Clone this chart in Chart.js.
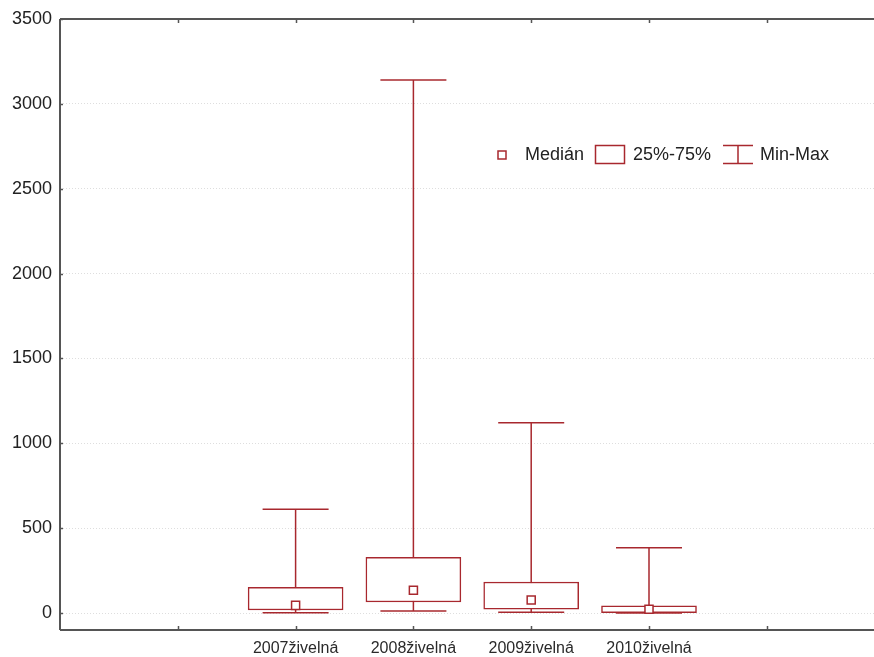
<!DOCTYPE html>
<html>
<head>
<meta charset="utf-8">
<script src="https://cdn.jsdelivr.net/npm/chart.js@4.4.1/dist/chart.umd.min.js"></script>
<style>
  html, body { margin: 0; padding: 0; background: #ffffff; }
  #wrap { width: 874px; height: 657px; }
</style>
</head>
<body>
<div id="wrap"><canvas id="c" width="874" height="657"></canvas></div>
<script>
// ---- data ----
const categories = ['2007živelná', '2008živelná', '2009živelná', '2010živelná'];
const positions = [2, 3, 4, 5];           // x slot of each category
const minValues = [2, 12, 4, 0];
const q1Values = [18, 65, 22, 2];
const medianValues = [45, 134, 77, 22];
const q3Values = [151, 328, 183, 43];
const maxValues = [611, 3141, 1121, 385];
const yTicks = [0, 500, 1000, 1500, 2000, 2500, 3000, 3500];
const xTickSlots = [1, 2, 3, 4, 5, 6];
const legendLabels = ['Medián', '25%-75%', 'Min-Max'];

const RED = '#a8282e';
const AXIS = '#555555';
const FONT = "'Liberation Sans', Arial, sans-serif";

// whisker segments (null breaks the line)
const whiskerData = [];
positions.forEach((x, i) => {
  whiskerData.push({ x: x, y: minValues[i] });
  whiskerData.push({ x: x, y: maxValues[i] });
  whiskerData.push({ x: x, y: null });
});
const capData = [];
positions.forEach((x, i) => {
  capData.push({ x: x, y: minValues[i] });
  capData.push({ x: x, y: maxValues[i] });
});
const boxData = positions.map((x, i) => ({ x: x, y: [q1Values[i], q3Values[i]] }));
const medianData = positions.map((x, i) => ({ x: x, y: medianValues[i] }));

function noPad(s) { s.paddingLeft = 0; s.paddingRight = 0; s.paddingTop = 0; s.paddingBottom = 0; }

const frame = {
  id: 'frame',
  afterDraw(chart) {
    const { ctx, chartArea: a, scales: { x, y } } = chart;
    ctx.save();
    ctx.strokeStyle = AXIS;
    ctx.lineWidth = 2;
    ctx.beginPath();
    ctx.moveTo(a.left, a.top); ctx.lineTo(a.right, a.top);
    ctx.moveTo(a.left, a.bottom); ctx.lineTo(a.right, a.bottom);
    ctx.moveTo(a.left, a.top); ctx.lineTo(a.left, a.bottom);
    ctx.stroke();
    ctx.lineWidth = 1.5;
    ctx.beginPath();
    xTickSlots.forEach(v => {
      const px = Math.round(x.getPixelForValue(v)) + 0.5;
      ctx.moveTo(px, a.top); ctx.lineTo(px, a.top + 4);
      ctx.moveTo(px, a.bottom); ctx.lineTo(px, a.bottom - 4);
    });
    yTicks.forEach(v => {
      const py = Math.round(y.getPixelForValue(v)) + 0.5;
      ctx.moveTo(a.left, py); ctx.lineTo(a.left + 3, py);
    });
    ctx.stroke();

    // legend
    const ly = 155;
    ctx.strokeStyle = RED;
    ctx.lineWidth = 1.5;
    ctx.fillStyle = '#ffffff';
    ctx.fillRect(498, ly - 4, 8, 8);
    ctx.strokeRect(498, ly - 4, 8, 8);
    ctx.strokeRect(595.5, ly - 9.5, 29, 18);
    ctx.beginPath();
    ctx.moveTo(723, ly - 9.5); ctx.lineTo(753, ly - 9.5);
    ctx.moveTo(723, ly + 8.5); ctx.lineTo(753, ly + 8.5);
    ctx.moveTo(738, ly - 9.5); ctx.lineTo(738, ly + 8.5);
    ctx.stroke();
    ctx.fillStyle = '#222222';
    ctx.font = '18px ' + FONT;
    ctx.textBaseline = 'middle';
    ctx.textAlign = 'left';
    ctx.fillText(legendLabels[0], 525, ly);
    ctx.fillText(legendLabels[1], 633, ly);
    ctx.fillText(legendLabels[2], 760, ly);
    ctx.restore();
  }
};

new Chart(document.getElementById('c'), {
  type: 'bar',
  data: {
    datasets: [
      {
        type: 'line',
        data: whiskerData,
        borderColor: RED,
        borderWidth: 1.5,
        pointRadius: 0,
        spanGaps: false,
        fill: false,
        order: 4
      },
      {
        type: 'bar',
        data: boxData,
        backgroundColor: '#ffffff',
        borderColor: RED,
        borderWidth: 1.5,
        borderSkipped: false,
        barThickness: 95,
        order: 3
      },
      {
        type: 'scatter',
        data: capData,
        showLine: false,
        pointStyle: 'line',
        pointRadius: 33,
        borderColor: RED,
        borderWidth: 1.5,
        order: 2
      },
      {
        type: 'scatter',
        data: medianData,
        showLine: false,
        pointStyle: 'rect',
        pointRadius: 5.7,
        backgroundColor: '#ffffff',
        borderColor: RED,
        borderWidth: 1.5,
        order: 1
      }
    ]
  },
  options: {
    responsive: false,
    animation: false,
    events: [],
    layout: { autoPadding: false, padding: { top: 19, right: 0, left: 0, bottom: 0 } },
    plugins: { legend: { display: false }, tooltip: { enabled: false } },
    scales: {
      x: {
        type: 'linear',
        offset: false,
        min: 0,
        max: 6.91,
        afterBuildTicks: s => { s.ticks = positions.map(v => ({ value: v })); },
        afterFit: s => { s.height = 27; noPad(s); },
        grid: { display: false, drawTicks: false },
        border: { display: false },
        ticks: {
          padding: 9,
          autoSkip: false,
          maxRotation: 0,
          color: '#2a2a2a',
          font: { family: FONT, size: 16 },
          callback: v => { const i = positions.indexOf(v); return i >= 0 ? categories[i] : ''; }
        }
      },
      y: {
        type: 'linear',
        min: -100,
        max: 3500,
        afterBuildTicks: s => { s.ticks = yTicks.map(v => ({ value: v })); },
        afterFit: s => { s.width = 60; noPad(s); },
        grid: { color: '#dedede', lineWidth: 1, drawTicks: false },
        border: { display: false, dash: [1, 2] },
        ticks: {
          padding: 8,
          color: '#222222',
          font: { family: FONT, size: 18 },
          callback: v => String(v)
        }
      }
    }
  },
  plugins: [frame]
});
</script>
</body>
</html>
